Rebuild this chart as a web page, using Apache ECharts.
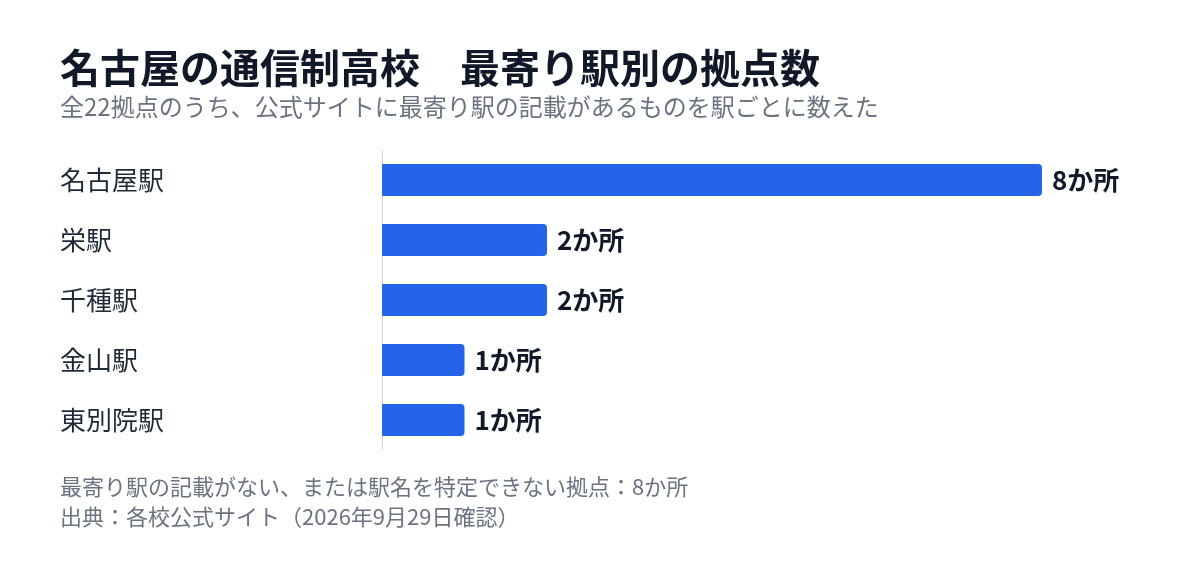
<!DOCTYPE html>
<html><head><meta charset="utf-8">
<script src="https://cdn.jsdelivr.net/npm/echarts@6/dist/echarts.min.js"></script>
<style>html,body{margin:0;padding:0;background:#fff}#c{width:1200px;height:568px}</style>
</head><body><div id="c"></div>
<script>
const categories = ['名古屋駅','栄駅','千種駅','金山駅','東別院駅'];
const values = [8,2,2,1,1];
const titleText = '名古屋の通信制高校　最寄り駅別の拠点数';
const subtitleText = '全22拠点のうち、公式サイトに最寄り駅の記載があるものを駅ごとに数えた';
const footer1 = '最寄り駅の記載がない、または駅名を特定できない拠点：8か所';
const footer2 = '出典：各校公式サイト（2026年9月29日確認）';
const F = '"Noto Sans CJK JP","Noto Sans",sans-serif';
const chart = echarts.init(document.getElementById('c'));
chart.setOption({
  backgroundColor:'#fff',
  animation:false,
  graphic:[
    {type:'text',left:60,top:48,style:{text:titleText,font:'bold 40px '+F,fill:'#111827'}},
    {type:'text',left:60,top:95,style:{text:subtitleText,font:'24px '+F,fill:'#6b7280'}},
    {type:'text',left:60,top:476,style:{text:footer1,font:'22px '+F,fill:'#6b7280'}},
    {type:'text',left:60,top:506,style:{text:footer2,font:'22px '+F,fill:'#6b7280'}}
  ],
  grid:{left:382,width:660,top:150,height:300},
  xAxis:{type:'value',min:0,max:8,show:false},
  yAxis:{type:'category',data:categories,inverse:true,
    axisLine:{show:true,lineStyle:{color:'#d1d5db',width:1}},
    axisTick:{show:false},
    axisLabel:{align:'left',margin:322,fontSize:26,color:'#1f2937',fontFamily:F}},
  series:[{type:'bar',data:values,barWidth:32,
    itemStyle:{color:'#2563eb',borderRadius:[0,4,4,0]},
    label:{show:true,position:'right',distance:10,formatter:p=>p.value+'か所',
      fontSize:26,fontWeight:'bold',color:'#111827',fontFamily:F}}]
});
</script></body></html>
